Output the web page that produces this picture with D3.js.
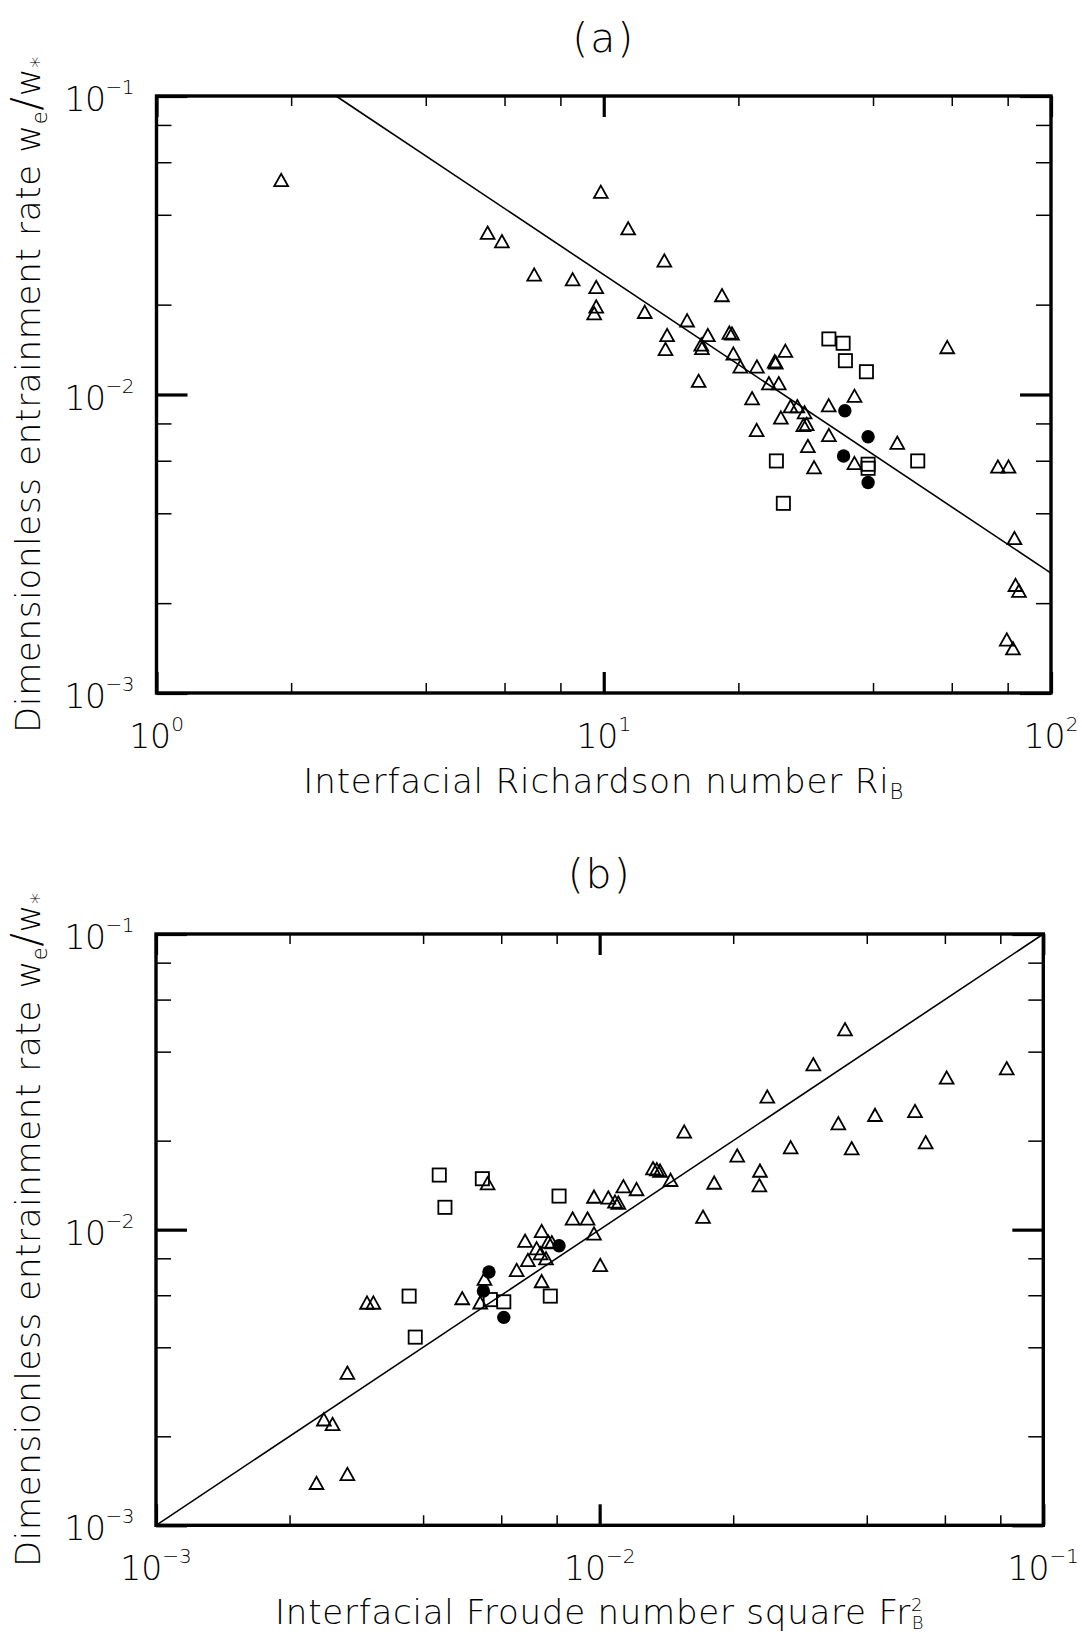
<!DOCTYPE html>
<html><head><meta charset="utf-8">
<script src="https://cdn.jsdelivr.net/npm/d3@7"></script>
<style>
html,body{margin:0;padding:0;background:#fff;}
svg{display:block;background:#fff;}
text{font-family:"DejaVu Sans",sans-serif;font-weight:200;fill:#000;}
</style></head><body>
<svg id="c" width="1082" height="1635"></svg>
<script>
// ---------- DATA ----------
// Panel (a): Interfacial Richardson number Ri_B vs w_e/w_*
const triA_Ri = [1.90,5.50,5.92,6.99,8.52,9.62,9.62,9.52,9.85,11.34,13.66,12.35,18.38,15.36,13.86,13.74,17.09,16.52,16.58,19.09,19.35,19.49,25.47,16.30,20.20,22.00,24.11,24.25,23.40,24.62,21.46,26.17,27.09,28.12,24.89,27.95,28.43,21.97,31.84,36.36,31.87,28.60,29.53,36.35,45.32,58.61,76.09,80.35,82.85,83.28,84.80,79.63,82.22];
const triA_w  = [0.0523,0.0348,0.0326,0.0252,0.0243,0.0229,0.0197,0.0187,0.0477,0.0360,0.0281,0.0189,0.0215,0.0177,0.0158,0.0142,0.0158,0.0147,0.0143,0.0161,0.0160,0.0137,0.0140,0.0111,0.0124,0.0124,0.0129,0.0128,0.0109,0.0109,0.00971,0.00912,0.00913,0.00871,0.00836,0.00790,0.00796,0.00760,0.00919,0.00989,0.00731,0.00672,0.00570,0.00589,0.00689,0.0144,0.00573,0.00573,0.00330,0.00230,0.00220,0.00151,0.00141];
const sqA_Ri  = [31.87,34.29,34.70,38.66,24.32,25.21,39.0,39.0,50.35];
const sqA_w   = [0.01535,0.01485,0.01298,0.01192,0.00599,0.00432,0.00584,0.00566,0.00599];
const cirA_Ri = [34.60,39.0,34.37,39.0];
const cirA_w  = [0.00882,0.00722,0.00622,0.00507];
const fitA_x  = [2.52,100];
const fitA_y  = [0.1,0.00252];

// Panel (b): Interfacial Froude number square Fr_B^2 vs w_e/w_*
const triB_Fr = [0.00230,0.00270,0.00239,0.00250,0.00270,0.00299,0.00309,0.00490,0.00538,0.00550,0.00559,0.00650,0.00689,0.00679,0.00721,0.00740,0.00736,0.00766,0.00780,0.00757,0.00740,0.00869,0.00939,0.00971,0.01046,0.01083,0.01102,0.01131,0.01211,0.00971,0.01003,0.01319,0.01345,0.01368,0.01445,0.01551,0.01710,0.01812,0.02042,0.02298,0.02291,0.02387,0.02695,0.03031,0.03451,0.03573,0.03699,0.04175,0.05138,0.05431,0.06056,0.0827];
const triB_w  = [0.00139,0.00149,0.00228,0.00220,0.00328,0.00566,0.00566,0.00586,0.00567,0.00682,0.01434,0.00730,0.00789,0.00917,0.00864,0.00989,0.00831,0.00910,0.00906,0.00799,0.00669,0.01090,0.01090,0.01292,0.01284,0.01243,0.01233,0.01401,0.01370,0.00970,0.00759,0.01612,0.01600,0.01582,0.01472,0.02144,0.01105,0.01441,0.01781,0.01582,0.01412,0.02816,0.01898,0.03623,0.02289,0.04760,0.01884,0.02442,0.02519,0.01974,0.03265,0.03513];
const sqB_Fr  = [0.00435,0.00544,0.00448,0.00810,0.00372,0.00384,0.00567,0.00608,0.00774];
const sqB_w   = [0.01530,0.01487,0.01190,0.01299,0.00596,0.00433,0.00580,0.00570,0.00596];
const cirB_Fr = [0.00810,0.00563,0.00547,0.00608];
const cirB_w  = [0.00882,0.00719,0.00620,0.00505];
const fitB_x  = [0.001,0.1];
const fitB_y  = [0.001,0.1];

// Tick values and labels
const xMajorA = [1,10,100],       xMinorA = [2,4,6,8,20,40,60,80];
const xExpA   = ["0","1","2"];
const xMajorB = [0.001,0.01,0.1], xMinorB = [0.002,0.004,0.006,0.008,0.02,0.04,0.06,0.08];
const xExpB   = ["\u22123","\u22122","\u22121"];
const yMajor  = [0.001,0.01,0.1], yMinor  = [0.002,0.004,0.006,0.008,0.02,0.04,0.06,0.08];
const yExp    = ["\u22123","\u22122","\u22121"];

const zip = (a,b) => a.map((v,i)=>[v,b[i]]);

// ---------- DRAWING ----------
const svg = d3.select("#c");

function fitText(sel, target){
  const n = sel.text().length;
  const len = sel.node().getComputedTextLength();
  sel.attr("letter-spacing", ((target-len)/Math.max(1,n-1)).toFixed(2));
}

function drawPanel(cfg){
  const g = svg.append("g");
  const x = d3.scaleLog().domain(cfg.xDomain).range([cfg.left, cfg.right]);
  const y = d3.scaleLog().domain(cfg.yDomain).range([cfg.bottom, cfg.top]);

  // fit line
  g.append("path")
    .datum(zip(cfg.fitX, cfg.fitY))
    .attr("d", d3.line().x(d=>x(d[0])).y(d=>y(d[1])))
    .attr("fill","none").attr("stroke","#000").attr("stroke-width",1.6);

  // triangles
  g.append("g").selectAll("path").data(zip(cfg.triX, cfg.triY)).join("path")
    .attr("d","M0,-6.3L6.9,6L-6.9,6Z")
    .attr("transform", d=>`translate(${x(d[0])},${y(d[1])})`)
    .attr("fill","none").attr("stroke","#000").attr("stroke-width",1.8)
    .attr("stroke-linejoin","miter");
  // squares
  g.append("g").selectAll("rect").data(zip(cfg.sqX, cfg.sqY)).join("rect")
    .attr("x", d=>x(d[0])-6.6).attr("y", d=>y(d[1])-6.6)
    .attr("width",13.2).attr("height",13.2)
    .attr("fill","none").attr("stroke","#000").attr("stroke-width",1.8);
  // filled circles
  g.append("g").selectAll("circle").data(zip(cfg.cirX, cfg.cirY)).join("circle")
    .attr("cx", d=>x(d[0])).attr("cy", d=>y(d[1])).attr("r",6.7)
    .attr("fill","#000");

  // ticks
  function tickAxis(axis, tr, vals, size, w){
    const a = g.append("g").attr("transform", tr)
      .call(axis.tickValues(vals).tickSize(size).tickFormat(""));
    a.select(".domain").remove();
    a.selectAll(".tick line").attr("stroke","#000").attr("stroke-width",w);
  }
  tickAxis(d3.axisBottom(x), `translate(0,${cfg.bottom})`, cfg.xMinor, -10, 1.5);
  tickAxis(d3.axisBottom(x), `translate(0,${cfg.bottom})`, cfg.xMajor, -21, 3.2);
  tickAxis(d3.axisTop(x),    `translate(0,${cfg.top})`,    cfg.xMinor, -10, 1.5);
  tickAxis(d3.axisTop(x),    `translate(0,${cfg.top})`,    cfg.xMajor, -21, 3.2);
  tickAxis(d3.axisLeft(y),   `translate(${cfg.left},0)`,   yMinor, -15, 1.5);
  tickAxis(d3.axisLeft(y),   `translate(${cfg.left},0)`,   yMajor, -31, 3.2);
  tickAxis(d3.axisRight(y),  `translate(${cfg.right},0)`,  yMinor, -15, 1.5);
  tickAxis(d3.axisRight(y),  `translate(${cfg.right},0)`,  yMajor, -31, 3.2);

  // frame
  g.append("rect").attr("x",cfg.left).attr("y",cfg.top)
    .attr("width",cfg.right-cfg.left).attr("height",cfg.bottom-cfg.top)
    .attr("fill","none").attr("stroke","#000").attr("stroke-width",3.4);

  // x tick labels
  cfg.xMajor.forEach((v,i)=>{
    const t = g.append("text").attr("x",x(v)).attr("y",cfg.bottom+55)
      .attr("text-anchor","middle").attr("font-size",33).text("10");
    t.append("tspan").attr("dy",-17).attr("font-size",20).text(cfg.xExp[i]);
  });
  // y tick labels
  yMajor.forEach((v,i)=>{
    const t = g.append("text").attr("x",134).attr("y",y(v)+15)
      .attr("text-anchor","end").attr("font-size",33).attr("letter-spacing",-0.5).text("10");
    t.append("tspan").attr("dy",-17).attr("font-size",20).text(yExp[i]);
  });

  // panel label
  g.append("text").attr("x",(cfg.left+cfg.right)/2).attr("y",cfg.labelY)
    .attr("text-anchor","middle").attr("font-size",41).attr("letter-spacing",2).text(cfg.label);

  // y title
  const cy = (cfg.top+cfg.bottom)/2;
  const yt = g.append("text").attr("transform",`translate(40,${cy}) rotate(-90)`)
    .attr("text-anchor","middle").attr("font-size",34);
  yt.append("tspan").text("Dimensionless entrainment rate w");
  yt.append("tspan").attr("dy",7).attr("font-size",21).text("e");
  yt.append("tspan").attr("dy",-7).attr("font-size",40).text("/");
  yt.append("tspan").text("w");
  yt.append("tspan").attr("dy",6).attr("font-size",22).text("*");
  fitText(yt, cfg.yTitleLen);

  // x title
  const xt = g.append("text").attr("x",(cfg.left+cfg.right)/2).attr("y",cfg.xTitleY)
    .attr("text-anchor","middle").attr("font-size",34);
  cfg.xTitle(xt);
  fitText(xt, cfg.xTitleLen);
}

drawPanel({
  xDomain:[1,100], yDomain:[0.001,0.1],
  left:156.5, right:1051, top:96, bottom:693,
  triX:triA_Ri, triY:triA_w, sqX:sqA_Ri, sqY:sqA_w, cirX:cirA_Ri, cirY:cirA_w,
  fitX:fitA_x, fitY:fitA_y,
  xMajor:xMajorA, xMinor:xMinorA, xExp:xExpA,
  label:"(a)", labelY:52,
  xTitleY:793, xTitleLen:600, yTitleLen:676,
  xTitle: t => {
    t.append("tspan").text("Interfacial Richardson number Ri");
    t.append("tspan").attr("dy",6).attr("font-size",21).text("B");
  }
});

drawPanel({
  xDomain:[0.001,0.1], yDomain:[0.001,0.1],
  left:156, right:1043.3, top:934, bottom:1525.3,
  triX:triB_Fr, triY:triB_w, sqX:sqB_Fr, sqY:sqB_w, cirX:cirB_Fr, cirY:cirB_w,
  fitX:fitB_x, fitY:fitB_y,
  xMajor:xMajorB, xMinor:xMinorB, xExp:xExpB,
  label:"(b)", labelY:888,
  xTitleY:1624, xTitleLen:660, yTitleLen:674,
  xTitle: t => {
    t.append("tspan").text("Interfacial Froude number square Fr");
    t.append("tspan").attr("dy",-13).attr("font-size",18).text("2");
    t.append("tspan").attr("dx",-11.5).attr("dy",18).attr("font-size",18).text("B");
  }
});
</script></body></html>
